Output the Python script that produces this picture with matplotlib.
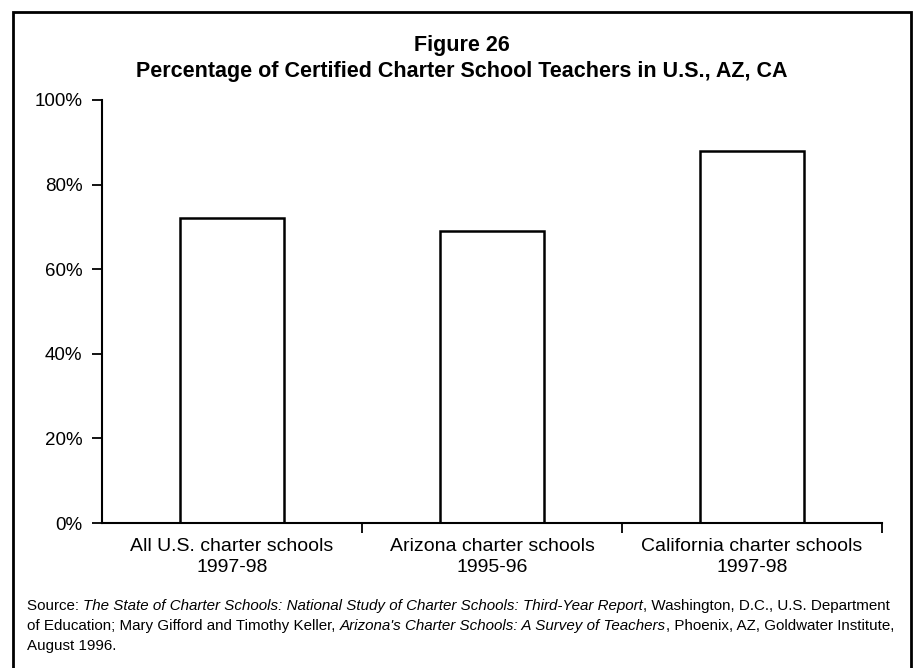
import matplotlib
matplotlib.use("Agg")
import matplotlib.pyplot as plt
from matplotlib.patches import Rectangle
from matplotlib.ticker import FixedLocator, FuncFormatter

plt.rcParams['font.family'] = ['Liberation Sans Narrow', 'Liberation Sans', 'DejaVu Sans']

categories = ["All U.S. charter schools\n1997-98",
              "Arizona charter schools\n1995-96",
              "California charter schools\n1997-98"]
values = [72, 69, 88]
yticks = [0, 20, 40, 60, 80, 100]

title1 = "Figure 26"
title2 = "Percentage of Certified Charter School Teachers in U.S., AZ, CA"

# source text, as runs of (text, italic)
source_lines = [
    [("Source: ", False),
     ("The State of Charter Schools: National Study of Charter Schools: Third-Year Report", True),
     (", Washington, D.C., U.S. Department", False)],
    [("of Education; Mary Gifford and Timothy Keller, ", False),
     ("Arizona's Charter Schools: A Survey of Teachers", True),
     (", Phoenix, AZ, Goldwater Institute,", False)],
    [("August 1996.", False)],
]

W, H = 914, 668
fig = plt.figure(figsize=(W / 100, H / 100), dpi=100)
ax = fig.add_axes((102 / W, 1 - 523 / H, (882 - 102) / W, (523 - 100) / H))

x = list(range(len(categories)))
ax.bar(x, values, width=0.40, color="white", edgecolor="black", linewidth=1.8)

ax.set_xlim(-0.5, len(categories) - 0.5)
ax.set_ylim(0, 100)
ax.yaxis.set_major_locator(FixedLocator(yticks))
ax.yaxis.set_major_formatter(FuncFormatter(lambda v, p: f"{v:.0f}%"))
ax.set_xticks(x)
ax.set_xticklabels(categories, fontsize=14, linespacing=1.3)
ax.set_xticks([i + 0.5 for i in x], minor=True)
ax.tick_params(axis="x", which="major", length=0, pad=11)
ax.tick_params(axis="x", which="minor", length=7, width=1.3, direction="out")
ax.tick_params(axis="y", length=7, width=1.3, labelsize=13.5, pad=7)

for s in ["top", "right"]:
    ax.spines[s].set_visible(False)
for s in ["left", "bottom"]:
    ax.spines[s].set_linewidth(1.5)

cx = (13 + 911) / 2 / W
fig.text(cx, 1 - 45 / H, title1, ha="center", va="center",
         fontsize=15.5, fontweight="bold")
fig.text(cx, 1 - 72 / H, title2, ha="center", va="center",
         fontsize=15.5, fontweight="bold")

# frame around the whole figure
fig.patches.append(Rectangle((13 / W, -0.05), (911 - 13) / W, 1.05 - 12 / H,
                             transform=fig.transFigure, fill=False,
                             edgecolor="black", linewidth=2, clip_on=False))

# source text with italic runs
fig.canvas.draw()
renderer = fig.canvas.get_renderer()
line_y = [606, 626, 646]
for runs, yy in zip(source_lines, line_y):
    xx = 27
    for txt, it in runs:
        t = fig.text(xx / W, 1 - yy / H, txt, ha="left", va="center", fontsize=10.9,
                     style="italic" if it else "normal")
        bb = t.get_window_extent(renderer=renderer)
        xx += bb.width

fig.savefig("out.png", dpi=100)
